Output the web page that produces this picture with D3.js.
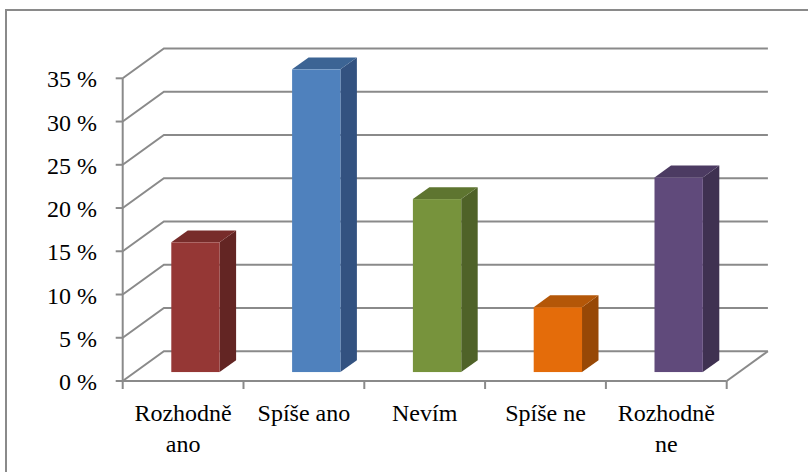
<!DOCTYPE html>
<html>
<head>
<meta charset="utf-8">
<script src="https://cdn.jsdelivr.net/npm/d3@7"></script>
<style>
  body { margin: 0; background: #fff; }
</style>
</head>
<body>
<div id="chart"></div>
<script>
// data
var categories = ['Rozhodně ano', 'Spíše ano', 'Nevím', 'Spíše ne', 'Rozhodně ne'];
var values = [15, 35, 20, 7.5, 22.5];
var yTicks = [0, 5, 10, 15, 20, 25, 30, 35];
var frontColors = ['#953735', '#4f81bd', '#77933c', '#e46c0a', '#604a7b'];
var sideColors = ['#632523', '#335280', '#4f6228', '#974806', '#3f3151'];
var topColors = ['#772c2a', '#3c6494', '#5e7530', '#b45708', '#4c3b62'];

var width = 808, height = 472;
var fontFamily = "'Liberation Serif', 'Times New Roman', Times, Tinos, 'Noto Serif', 'DejaVu Serif', FreeSerif, serif";

// depth offset of the 3D box (back wall relative to front plane)
var DX = 41.2, DY = 29.8;
var gridColor = '#8a8a8a';

var svg = d3.select('#chart')
    .append('svg')
    .attr('width', width)
    .attr('height', height);

//Outer border of the chart area
svg.append('rect')
    .attr('x', 6)
    .attr('y', 10)
    .attr('width', width + 10)
    .attr('height', height + 10)
    .style('fill', 'none')
    .style('stroke', gridColor)
    .style('stroke-width', 2);

var x = d3.scaleBand()
    .domain(categories)
    .range([122.7, 726.7])
    .padding(0);

var y = d3.scaleLinear()
    .domain([0, 35])
    .range([381, 78.3]);

// project (screen x on front plane, value, depth 0..1)
function px(sx, z){ return sx + z * DX; }
function py(v, z){ return y(v) - z * DY; }

var x0 = x.range()[0], x1 = x.range()[1];

//Side wall + back wall gridlines
var grid = svg.append('g')
    .style('fill', 'none')
    .style('stroke', gridColor)
    .style('stroke-width', 2);

grid.selectAll('.grid')
    .data(yTicks)
    .enter()
    .append('polyline')
    .attr('points', function(d){
        return [[px(x0, 0), py(d, 0)], [px(x0, 1), py(d, 1)], [px(x1, 1), py(d, 1)]].join(' ');
    });

//Floor right edge
grid.append('line')
    .attr('x1', px(x1, 0)).attr('y1', py(0, 0))
    .attr('x2', px(x1, 1)).attr('y2', py(0, 1));

//Front axes
grid.append('line')
    .attr('x1', x0).attr('y1', y(35))
    .attr('x2', x0).attr('y2', y(0));
grid.append('line')
    .attr('x1', x0).attr('y1', y(0))
    .attr('x2', x1).attr('y2', y(0));

grid.selectAll('.ytick')
    .data(yTicks)
    .enter()
    .append('line')
    .attr('x1', x0 - 7).attr('x2', x0)
    .attr('y1', function(d){ return y(d); })
    .attr('y2', function(d){ return y(d); });

var xTickPos = categories.map(function(c){ return x(c); }).concat([x1]);
grid.selectAll('.xtick')
    .data(xTickPos)
    .enter()
    .append('line')
    .attr('x1', function(d){ return d; })
    .attr('x2', function(d){ return d; })
    .attr('y1', y(0))
    .attr('y2', y(0) + 8);

//Y tick labels
svg.selectAll('.ylabel')
    .data(yTicks)
    .enter()
    .append('text')
    .attr('x', 97)
    .attr('y', function(d){ return y(d) + 9; })
    .attr('text-anchor', 'end')
    .style('font-family', fontFamily)
    .style('font-size', '24px')
    .style('fill', '#000')
    .text(function(d){ return d + ' %'; });

//Bars: side, top, front faces
var bw = x.bandwidth() * 0.4;
var zf = 0.3, zb = 0.7;

var bars = svg.selectAll('.bar')
    .data(values)
    .enter()
    .append('g')
    .attr('class', 'bar');

bars.append('polygon')
    .attr('points', function(d, i){
        var r = x(categories[i]) + x.bandwidth() / 2 + bw / 2;
        return [[px(r, zf), py(0, zf)], [px(r, zb), py(0, zb)], [px(r, zb), py(d, zb)], [px(r, zf), py(d, zf)]].join(' ');
    })
    .style('fill', function(d, i){ return sideColors[i]; });

bars.append('polygon')
    .attr('points', function(d, i){
        var l = x(categories[i]) + x.bandwidth() / 2 - bw / 2;
        var r = l + bw;
        return [[px(l, zf), py(d, zf)], [px(r, zf), py(d, zf)], [px(r, zb), py(d, zb)], [px(l, zb), py(d, zb)]].join(' ');
    })
    .style('fill', function(d, i){ return topColors[i]; });

bars.append('rect')
    .attr('x', function(d, i){ return px(x(categories[i]) + x.bandwidth() / 2 - bw / 2, zf); })
    .attr('y', function(d){ return py(d, zf); })
    .attr('width', bw)
    .attr('height', function(d){ return py(0, zf) - py(d, zf); })
    .style('fill', function(d, i){ return frontColors[i]; });

//Category labels, wrapped to the band width
var labels = svg.selectAll('.xlabel')
    .data(categories)
    .enter()
    .append('text')
    .attr('text-anchor', 'middle')
    .style('font-family', fontFamily)
    .style('font-size', '24px')
    .style('fill', '#000')
    .attr('y', 421);

labels.each(function(d){
    var el = d3.select(this);
    var cx = x(d) + x.bandwidth() / 2;
    var words = d.split(' ');
    var lines = [], line = [];
    var probe = el.append('tspan');
    words.forEach(function(w){
        var test = line.concat([w]).join(' ');
        probe.text(test);
        if (line.length && probe.node().getComputedTextLength() > x.bandwidth() - 4) {
            lines.push(line.join(' '));
            line = [w];
        } else {
            line.push(w);
        }
    });
    lines.push(line.join(' '));
    probe.remove();
    lines.forEach(function(t, k){
        el.append('tspan')
            .attr('x', cx)
            .attr('dy', k === 0 ? 0 : 31)
            .text(t);
    });
});
</script>
</body>
</html>
